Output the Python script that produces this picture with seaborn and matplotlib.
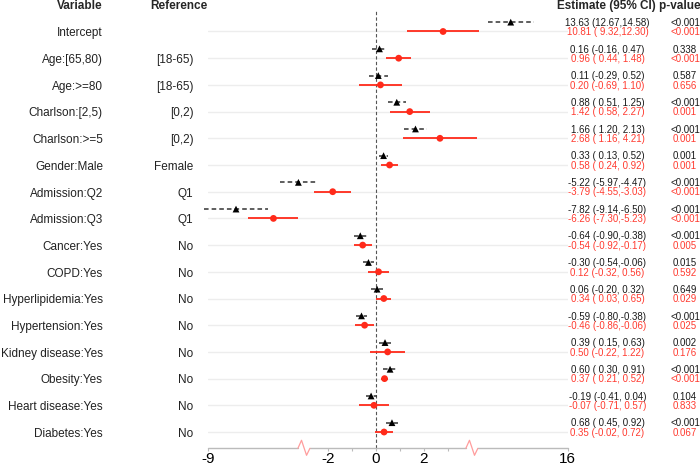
import numpy as np
import pandas as pd
import seaborn as sns
import matplotlib.pyplot as plt
from matplotlib.transforms import blended_transform_factory

variables = ["Intercept", "Age:[65,80)", "Age:>=80", "Charlson:[2,5)", "Charlson:>=5",
             "Gender:Male", "Admission:Q2", "Admission:Q3", "Cancer:Yes", "COPD:Yes",
             "Hyperlipidemia:Yes", "Hypertension:Yes", "Kidney disease:Yes", "Obesity:Yes",
             "Heart disease:Yes", "Diabetes:Yes"]
references = ["", "[18-65)", "[18-65)", "[0,2)", "[0,2)", "Female", "Q1", "Q1",
              "No", "No", "No", "No", "No", "No", "No", "No"]

# model 1 (black, triangles)
est1 = [13.63, 0.16, 0.11, 0.88, 1.66, 0.33, -5.22, -7.82, -0.64, -0.30, 0.06, -0.59, 0.39, 0.60, -0.19, 0.68]
lo1 = [12.67, -0.16, -0.29, 0.51, 1.20, 0.13, -5.97, -9.14, -0.90, -0.54, -0.20, -0.80, 0.15, 0.30, -0.41, 0.45]
hi1 = [14.58, 0.47, 0.52, 1.25, 2.13, 0.52, -4.47, -6.50, -0.38, -0.06, 0.32, -0.38, 0.63, 0.91, 0.04, 0.92]
p1 = ["<0.001", "0.338", "0.587", "<0.001", "<0.001", "0.001", "<0.001", "<0.001",
      "<0.001", "0.015", "0.649", "<0.001", "0.002", "<0.001", "0.104", "<0.001"]

# model 2 (red, dots)
est2 = [10.81, 0.96, 0.20, 1.42, 2.68, 0.58, -3.79, -6.26, -0.54, 0.12, 0.34, -0.46, 0.50, 0.37, -0.07, 0.35]
lo2 = [9.32, 0.44, -0.69, 0.58, 1.16, 0.24, -4.55, -7.30, -0.92, -0.32, 0.03, -0.86, -0.22, 0.21, -0.71, -0.02]
hi2 = [12.30, 1.48, 1.10, 2.27, 4.21, 0.92, -3.03, -5.23, -0.17, 0.56, 0.65, -0.06, 1.22, 0.52, 0.57, 0.72]
p2 = ["<0.001", "<0.001", "0.656", "0.001", "0.001", "0.001", "<0.001", "<0.001",
      "0.005", "0.592", "0.029", "0.025", "0.176", "<0.001", "0.833", "0.067"]

tick_vals = [-9, -2, 0, 2, 16]
minor_vals = [-1, 1, 3]
breaks = [-3, 4]   # where the gaps (-5,-3) and (4,12) are cut out


def shift_of(v):
    # gap axis: left part moved by +2, right part by -8
    v = np.asarray(v, dtype=float)
    return np.where(v < -3, 2.0, np.where(v > 4, -8.0, 0.0))


def fmt(e, l, h):
    return "%.2f (%5.2f,%5.2f)" % (e, l, h)


BLACK = "#1a1a1a"
RED = "#ff2a1a"
RED_TXT = "#ff3b30"

sns.set_theme(style="white")
plt.rcParams['font.family'] = ['Liberation Sans', 'DejaVu Sans']

W, H = 700, 466
fig = plt.figure(figsize=(7, 4.66), dpi=100)
ax = fig.add_axes([207.7 / W, 1 - 448.3 / H, 359.9 / W, 438.3 / H])

n = len(variables)
rows = np.arange(n)
y2 = rows.astype(float)
y1 = rows - 0.35

# whole row (estimate + CI) is moved by the shift of its estimate
sh1 = shift_of(est1)
sh2 = shift_of(est2)

# light row lines
for y in y2:
    ax.axhline(y, color="#ededed", lw=1, zorder=0)

ax.axvline(0, color="#555555", lw=0.8, ls=(0, (3, 2)), zorder=1)

# confidence intervals
ax.hlines(y1, np.array(lo1) + sh1, np.array(hi1) + sh1, colors="#333333", lw=1.1,
          linestyles=(0, (3, 2)), zorder=2, clip_on=False)
ax.hlines(y2, np.array(lo2) + sh2, np.array(hi2) + sh2, colors=RED, lw=1.3, zorder=2, clip_on=False)

df = pd.DataFrame({
    "x": np.r_[np.array(est1) + sh1, np.array(est2) + sh2],
    "y": np.r_[y1, y2],
    "model": ["m1"] * n + ["m2"] * n,
})
sns.scatterplot(data=df, x="x", y="y", hue="model", style="model",
                palette={"m1": "black", "m2": RED}, markers={"m1": "^", "m2": "o"},
                s=24, linewidth=0, legend=False, ax=ax, zorder=3)

ax.set_xlim(-7, 8)
ax.set_ylim(15.61, -0.805)
ax.set_xlabel("")
ax.set_ylabel("")
ax.set_yticks([])
for s in ax.spines.values():
    s.set_visible(False)

ax.set_xticks(np.array(tick_vals) + shift_of(tick_vals))
ax.set_xticklabels([str(t) for t in tick_vals])
ax.set_xticks(minor_vals, minor=True)
ax.tick_params(axis="x", which="both", bottom=True, length=2.5, width=0.8,
               color="#bbbbbb", labelsize=11, pad=0.4, labelcolor="black")

# broken x axis line
xt = blended_transform_factory(ax.transData, ax.transAxes)
dy = 1 / 438.3
seg_edges = [-7] + [v for b in breaks for v in (b - 0.24, b + 0.26)] + [8]
for a, b in zip(seg_edges[::2], seg_edges[1::2]):
    ax.plot([a, b], [0, 0], color="#bbbbbb", lw=1, transform=xt, clip_on=False)
for b in breaks:
    ax.plot(np.array([-0.24, -0.09, 0.12, 0.26]) + b, [0, 8 * dy, -7 * dy, 0],
            color="#ff9d9d", lw=0.9, transform=xt, clip_on=False)

# text columns
tt = blended_transform_factory(fig.transFigure, ax.transData)
hy = -0.83
ax.text(103 / W, hy, "Variable", transform=tt, ha="right", va="baseline", fontsize=8.5, fontweight="bold")
ax.text(150 / W, hy, "Reference", transform=tt, ha="left", va="baseline", fontsize=8.5, fontweight="bold")
ax.text(557 / W, hy, "Estimate (95% CI) p-value", transform=tt, ha="left", va="baseline",
        fontsize=8.5, fontweight="bold")

for i in range(n):
    ax.text(103 / W, y2[i] + 0.18, variables[i], transform=tt, ha="right", va="baseline",
            fontsize=8.5, color="#222222")
    ax.text(193.5 / W, y2[i] + 0.18, references[i], transform=tt, ha="right", va="baseline",
            fontsize=8.5, color="#222222")
    ax.text(607.5 / W, y1[i] + 0.14, fmt(est1[i], lo1[i], hi1[i]), transform=tt, ha="center",
            va="baseline", fontsize=7, color=BLACK)
    ax.text(607.5 / W, y2[i] + 0.14, fmt(est2[i], lo2[i], hi2[i]), transform=tt, ha="center",
            va="baseline", fontsize=7, color=RED_TXT)
    ax.text(685 / W, y1[i] + 0.14, p1[i], transform=tt, ha="center", va="baseline",
            fontsize=7, color=BLACK)
    ax.text(685 / W, y2[i] + 0.14, p2[i], transform=tt, ha="center", va="baseline",
            fontsize=7, color=RED_TXT)

fig.savefig("out.png", dpi=100)
